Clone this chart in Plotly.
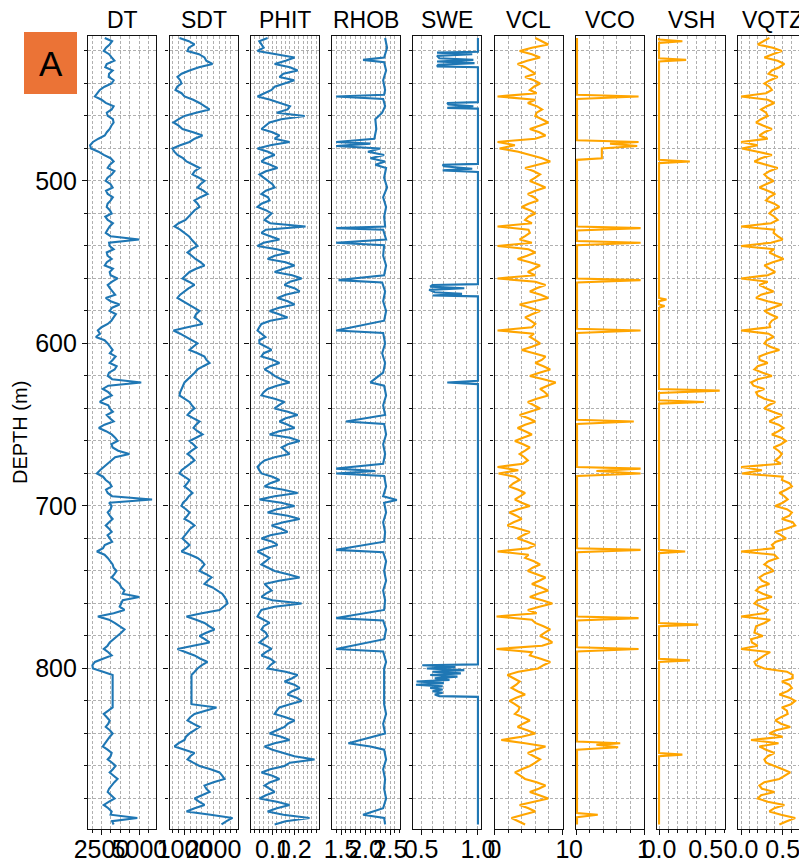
import plotly.graph_objects as go

# ---------------- data ----------------
# main depth samples (every 4 m) and the in-between samples (2 m offset)
depth = [412, 416, 420, 424, 428, 432, 436, 440, 444, 448, 452, 456, 460, 464, 468, 472, 476, 480, 484, 488,
         492, 496, 500, 504, 508, 512, 516, 520, 524, 528, 532, 536, 540, 544, 548, 552, 556, 560, 564, 568,
         572, 576, 580, 584, 588, 592, 596, 600, 604, 608, 612, 616, 620, 624, 628, 632, 636, 640, 644, 648,
         652, 656, 660, 664, 668, 672, 676, 680, 684, 688, 692, 696, 700, 704, 708, 712, 716, 720, 724, 728,
         732, 736, 740, 744, 748, 752, 756, 760, 764, 768, 772, 776, 780, 784, 788, 792, 796, 800, 804, 808,
         812, 816, 820, 824, 828, 832, 836, 840, 844, 848, 852, 856, 860, 864, 868, 872, 876, 880, 884, 888,
         892, 896]
depth_mid = [414, 418, 422, 426, 430, 434, 438, 442, 446, 450,
             454, 458, 462, 466, 470, 474, 478, 482, 486, 490,
             494, 498, 502, 506, 510, 514, 518, 522, 526, 530,
             534, 538, 542, 546, 550, 554, 558, 562, 566, 570,
             574, 578, 582, 586, 590, 594, 598, 602, 606, 610,
             614, 618, 622, 626, 630, 634, 638, 642, 646, 650,
             654, 658, 662, 666, 670, 674, 678, 682, 686, 690,
             694, 698, 702, 706, 710, 714, 718, 722, 726, 730,
             734, 738, 742, 746, 750, 754, 758, 762, 766, 770,
             774, 778, 782, 786, 790, 794, 798, 802, 806, 810,
             814, 818, 822, 826, 830, 834, 838, 842, 846, 850,
             854, 858, 862, 866, 870, 874, 878, 882, 886, 890,
             894]

dt = [2715, 3040, 2650, 3170, 2845, 3235, 2975, 3170, 2390, 2065,
      2780, 3170, 2910, 3300, 3040, 2715, 1935, 1805, 2650, 3300,
      2910, 3170, 2780, 3235, 2910, 3105, 2845, 3170, 2910, 3040,
      2780, 4990, 3040, 2845, 3170, 2715, 3040, 3560, 2910, 3235,
      2780, 3690, 3040, 3300, 2910, 2260, 2130, 2910, 3235, 3430,
      3040, 3365, 2910, 5120, 2585, 3170, 2390, 3040, 2845, 3300,
      2325, 3170, 3560, 3235, 4340, 3170, 2650, 2195, 2780, 3170,
      2910, 5835, 3170, 2910, 3235, 2780, 3170, 3040, 2715, 2195,
      2910, 3235, 3495, 3170, 3690, 4015, 4990, 3820, 4015, 2260,
      3365, 4015, 3560, 3040, 2650, 3170, 2065, 1935, 3235, 3235,
      3235, 3235, 3235, 3235, 2650, 3040, 2780, 3235, 2910, 2585,
      3170, 2910, 3430, 3040, 3560, 3170, 2910, 3365, 2650, 3170,
      4860, 3300]
dt_mid = [3200, 2800, 3000, 3350, 2750, 3000, 3300, 2700, 2250, 2500,
          3300, 2850, 3250, 3150, 2850, 2300, 1750, 2300, 3100, 3050,
          3350, 2900, 3100, 2800, 3250, 2900, 3050, 2750, 3250, 2900,
          3100, 3000, 3300, 2900, 2850, 3250, 3100, 3200, 3050, 3400,
          3100, 3200, 3450, 3150, 2500, 2400, 2700, 3050, 3050, 3250,
          3500, 3000, 3200, 2950, 2950, 2700, 2950, 3250, 3050, 2700,
          2800, 3400, 3150, 3600, 3400, 2900, 2400, 2600, 3050, 2800,
          3200, 3000, 3100, 3050, 3000, 3000, 2900, 3200, 2600, 2700,
          3100, 3300, 3350, 3450, 3800, 3900, 3900, 3700, 3300, 3000,
          3700, 3800, 3250, 2900, 2950, 2600, 1900, 2600, 3235, 3235,
          3235, 3235, 3235, 2950, 2850, 2950, 3050, 3050, 2750, 2900,
          3100, 3200, 3250, 3300, 3350, 3000, 3150, 3000, 2950, 3100,
          3200]

sdt = [828, 1345, 1104, 1690, 1966, 1173, 758, 897, 690, 1000,
       1518, 1863, 1000, 620, 931, 1621, 1173, 586, 758, 1069,
       1518, 1276, 1690, 1449, 1794, 1345, 1518, 1242, 1035, 655,
       1000, 1242, 1449, 1104, 1380, 1690, 1173, 931, 1345, 1000,
       758, 1173, 1518, 1345, 1621, 620, 1035, 1449, 1173, 1690,
       1863, 1449, 1242, 1000, 897, 828, 1173, 1345, 1104, 1518,
       1311, 1621, 1173, 1414, 1104, 1345, 1035, 828, 1173, 1000,
       1276, 1069, 897, 1173, 1000, 1345, 1104, 931, 1173, 897,
       1449, 1690, 1518, 1932, 1690, 2139, 2380, 2484, 2208, 1069,
       1690, 2035, 1518, 1863, 758, 1345, 1794, 1449, 1242, 1242,
       1242, 1242, 1242, 2104, 1345, 1104, 1518, 1173, 1000, 655,
       1345, 1104, 1518, 2208, 2380, 1690, 1863, 1345, 1690, 1069,
       2656, 2277]
sdt_mid = [1150, 1150, 1500, 1750, 1500, 900, 850, 750, 900, 1300,
           1700, 1400, 800, 800, 1300, 1350, 850, 650, 950, 1300,
           1350, 1500, 1550, 1650, 1550, 1450, 1350, 1150, 800, 850,
           1150, 1350, 1250, 1250, 1550, 1400, 1050, 1150, 1150, 850,
           950, 1350, 1400, 1500, 1100, 850, 1250, 1300, 1450, 1750,
           1650, 1350, 1100, 950, 850, 1000, 1250, 1200, 1300, 1400,
           1450, 1400, 1300, 1250, 1250, 1200, 900, 1000, 1100, 1150,
           1150, 950, 1050, 1100, 1200, 1200, 1000, 1050, 1050, 1200,
           1600, 1600, 1750, 1800, 1950, 2300, 2450, 2350, 1600, 1400,
           1850, 1750, 1700, 1300, 1050, 1550, 1600, 1350, 1242, 1242,
           1242, 1242, 1242, 1700, 1200, 1300, 1350, 1050, 800, 1000,
           1200, 1300, 1900, 2300, 2000, 1750, 1600, 1500, 1350, 1900,
           2450]

phit = [.078, .050, .032, .201, .110, .215, .132, .155, .096, .032,
        .132, .169, .247, .087, .050, .132, .178, .032, .110, .050,
        .123, .041, .078, .110, .050, .087, .032, .096, .064, .251,
        .050, .132, .032, .178, .078, .201, .110, .233, .155, .224,
        .123, .201, .087, .169, .050, .032, .068, .041, .096, .050,
        .132, .064, .110, .178, .078, .050, .155, .110, .215, .132,
        .201, .087, .224, .142, .178, .064, .032, .050, .132, .064,
        .215, .041, .201, .078, .224, .096, .169, .050, .123, .032,
        .087, .050, .110, .224, .064, .096, .050, .233, .050, .032,
        .087, .050, .078, .041, .096, .050, .110, .078, .215, .155,
        .224, .169, .233, .132, .110, .201, .155, .087, .178, .064,
        .150, .292, .155, .050, .132, .064, .110, .041, .178, .078,
        .269, .110]
phit_mid = [.040, .060, .120, .160, .180, .150, .200, .110, .060, .090,
            .180, .120, .140, .070, .100, .110, .090, .080, .070, .090,
            .070, .060, .100, .070, .080, .050, .070, .080, .090, .070,
            .090, .060, .120, .110, .160, .150, .190, .180, .200, .160,
            .170, .130, .130, .090, .040, .050, .040, .070, .060, .100,
            .090, .090, .140, .120, .060, .110, .130, .170, .160, .170,
            .130, .180, .170, .160, .110, .045, .040, .100, .090, .150,
            .110, .140, .120, .170, .150, .140, .090, .100, .070, .060,
            .070, .080, .170, .130, .080, .070, .100, .110, .040, .060,
            .060, .070, .060, .070, .070, .090, .090, .160, .190, .200,
            .190, .210, .180, .120, .160, .170, .120, .140, .110, .100,
            .200, .180, .090, .100, .090, .090, .070, .120, .120, .150,
            .160]

vcl = [.60, .79, .37, .67, .34, .52, .45, .67, .52, .045,
       .49, .70, .60, .79, .52, .75, .045, .075, .52, .82,
       .45, .67, .52, .75, .49, .64, .40, .60, .45, .045,
       .52, .37, .045, .60, .34, .67, .49, .045, .75, .52,
       .79, .37, .67, .45, .60, .045, .52, .67, .40, .75,
       .60, .82, .52, .90, .67, .79, .49, .67, .37, .60,
       .34, .55, .30, .52, .37, .49, .045, .06, .37, .22,
       .45, .30, .52, .22, .40, .19, .52, .34, .60, .045,
       .45, .67, .49, .75, .55, .79, .52, .85, .49, .03,
       .60, .82, .67, .85, .03, .52, .82, .64, .19, .37,
       .25, .45, .22, .37, .30, .52, .34, .60, .10, .75,
       .49, .67, .52, .30, .45, .75, .52, .79, .37, .60,
       .25, .45]
vcl_mid = [.70, .55, .55, .48, .45, .60, .58, .58, .62, .60,
           .62, .62, .70, .66, .66, .60, .30, .35, .70, .62,
           .58, .60, .64, .60, .58, .50, .52, .50, .55, .50,
           .45, .55, .50, .48, .52, .58, .60, .60, .62, .68,
           .58, .52, .55, .53, .55, .58, .60, .55, .58, .70,
           .72, .66, .72, .78, .74, .62, .58, .52, .50, .45,
           .45, .42, .42, .45, .44, .42, .35, .30, .28, .35,
           .38, .40, .35, .32, .28, .36, .42, .48, .50, .50,
           .58, .56, .62, .66, .68, .64, .70, .66, .62, .55,
           .72, .74, .78, .70, .55, .68, .72, .35, .28, .32,
           .34, .32, .30, .35, .42, .42, .48, .40, .45, .60,
           .58, .60, .40, .38, .62, .65, .66, .58, .50, .42,
           .35]

vqtz = [.34, .20, .49, .28, .52, .37, .44, .28, .37, 0,
        .40, .24, .32, .18, .37, .22, 0, .01, .37, .16,
        .44, .28, .39, .22, .41, .30, .46, .34, .44, 0,
        .39, .50, 0, .34, .51, .28, .41, 0, .22, .39,
        .18, .49, .28, .44, .34, 0, .39, .28, .46, .22,
        .32, .16, .37, .12, .28, .20, .41, .28, .49, .34,
        .51, .37, .54, .39, .49, .41, 0, .01, .49, .61,
        .46, .56, .41, .61, .49, .65, .41, .54, .37, 0,
        .44, .28, .39, .22, .34, .18, .37, .16, .32, 0,
        .28, .17, .26, .13, 0, .28, .16, .28, .62, .49,
        .61, .46, .65, .49, .56, .41, .59, .34, .12, .22,
        .40, .28, .41, .59, .46, .22, .40, .20, .52, .34,
        .65, .46]
vqtz_mid = [.26, .38, .38, .44, .46, .33, .35, .34, .30, .32,
            .31, .30, .24, .27, .28, .32, .20, .20, .24, .30,
            .34, .32, .30, .32, .34, .40, .38, .40, .36, .40,
            .44, .36, .40, .42, .38, .34, .32, .32, .30, .24,
            .32, .38, .35, .37, .35, .33, .31, .35, .32, .22,
            .20, .26, .20, .15, .18, .28, .33, .38, .41, .45,
            .45, .48, .48, .45, .46, .48, .25, .50, .58, .54,
            .52, .50, .55, .58, .62, .54, .48, .42, .40, .40,
            .33, .34, .28, .25, .22, .26, .20, .24, .28, .35,
            .18, .16, .12, .20, .35, .22, .18, .55, .62, .58,
            .56, .58, .60, .55, .48, .48, .42, .50, .45, .30,
            .32, .30, .50, .52, .28, .25, .24, .32, .40, .48,
            .55]

rhob_depth = [412, 418, 424, 425.5, 427, 432, 438, 444, 447, 448, 449.5, 454, 458, 462, 468, 474, 476, 477,
              478.5, 480, 482, 484, 486, 488, 490, 492, 498, 504, 510, 516, 522, 528, 529, 530, 536, 538,
              539.5, 546, 552, 558, 561, 562.5, 568, 574, 580, 586, 592, 593.5, 600, 606, 612, 618, 624,
              626, 632, 638, 644, 648, 649.5, 656, 662, 668, 674, 677, 678.5, 680, 681.5, 688, 694, 696.3,
              698, 704, 710, 716, 722, 727, 728.5, 734, 740, 746, 752, 758, 764, 769, 770.5, 776, 782, 788,
              789.5, 796, 800, 822, 828, 834, 840, 846, 848, 850, 856, 862, 868, 874, 880, 886, 890, 892, 896]
rhob = [2.40, 2.44, 2.38, 1.95, 2.38, 2.42, 2.36, 2.40, 2.38, 1.40, 2.36, 2.40, 2.34, 2.20, 2.22, 2.18, 1.40, 2.10,
        1.40, 2.30, 2.05, 2.38, 2.10, 2.40, 2.20, 2.42, 2.38, 2.44, 2.36, 2.42, 2.38, 2.40, 1.40, 2.36, 2.42, 1.40,
        2.38, 2.36, 2.42, 2.38, 1.45, 2.34, 2.40, 2.36, 2.42, 2.38, 1.40, 2.36, 2.40, 2.34, 2.40, 2.36, 2.10,
        2.38, 2.42, 2.36, 2.40, 1.60, 2.38, 2.42, 2.36, 2.40, 2.36, 1.40, 2.20, 1.40, 2.38, 2.42, 2.36, 2.64,
        2.38, 2.42, 2.36, 2.40, 2.38, 1.40, 2.36, 2.42, 2.38, 2.42, 2.36, 2.40, 2.38, 1.40, 2.36, 2.42, 2.38, 1.40,
        2.36, 2.42, 2.38, 2.38, 2.42, 2.36, 2.40, 1.65, 2.10, 2.38, 2.42, 2.36, 2.40, 2.38, 2.42, 2.36, 1.95, 2.38, 2.40]

swe_depth = [412, 420.5, 421, 422, 423, 424.5, 425.5, 426.5, 427.5, 428.5, 429.5, 430,
             451.5, 452, 453, 454, 455, 455.5, 489.5, 490, 491, 492.5, 493.5, 494.5,
             563.5, 564, 565, 566, 567, 568.5, 569.5, 570.5, 571, 623, 624, 625,
             797.5, 798, 799, 800, 801, 802, 803, 804, 805, 806, 807, 808, 809, 810,
             811, 812, 813, 814, 815, 816, 817, 817.5, 896]
swe = [1.0, 1.0, .64, .95, .64, .66, .96, .64, .97, .65, .64, 1.0,
       1.0, .73, .74, .96, .73, 1.0, 1.0, .69, .70, .95, .69, 1.0,
       1.0, .60, .58, .88, .57, .62, .86, .60, 1.0, 1.0, .73, 1.0,
       1.0, .51, .80, .55, .88, .60, .85, .58, .82, .62, .75, .46, .70, .455,
       .69, .58, .69, .60, .69, .62, .66, 1.0, 1.0]

vco_depth = [412, 447, 448, 449.5, 475, 476, 477, 478.5, 480, 486, 487, 528, 529, 530.5, 537, 538, 539.5,
             560, 561, 562.5, 591, 592, 593.5, 647, 648, 649.5, 676, 677, 678.5, 680, 681.5, 726, 727, 728.5,
             768, 769, 770.5, 787, 788, 789.5, 845, 846, 847, 848.5, 850, 889, 890, 891.5, 896]
vco = [.015, .015, .92, .015, .015, .92, .50, .90, .38, .38, .015, .015, .95, .015, .015, .95, .015,
       .015, .95, .015, .015, .95, .015, .015, .85, .015, .015, .95, .30, .95, .015, .015, .95, .015,
       .015, .92, .015, .015, .92, .015, .015, .65, .30, .62, .015, .015, .32, .015, .015]

vsh_depth = [412, 413, 414, 415, 424.5, 425.5, 426.5, 487, 488, 489, 572, 573, 574, 576, 577, 578,
             628, 629, 630.5, 635, 636, 637, 727, 728, 729, 772, 773, 774, 794, 795, 796, 852, 853, 854, 896]
vsh = [0, 0, .25, 0, 0, .29, 0, 0, .33, 0, 0, .08, 0, 0, .06, 0,
       0, .65, 0, 0, .48, 0, 0, .28, 0, 0, .42, 0, 0, .33, 0, 0, .25, 0, 0]

tracks = ["DT", "SDT", "PHIT", "RHOB", "SWE", "VCL", "VCO", "VSH", "VQTZ"]
x_ranges = [[1610, 6094], [483, 2828], [0, 0.31], [1.316, 2.704], [0.4286, 1.027],
            [0, 1], [0, 1], [-0.0217, 0.7065], [-0.037, 0.78]]
x_tickvals = [[2500, 5000], [1000, 2000], [0.1, 0.2], [1.5, 2.0, 2.5], [0.5, 1.0],
              [0, 1], [0, 1], [0, 0.5], [0, 0.5]]
x_ticktext = [["2500", "5000"], ["1000", "2000"], ["0.1", "0.2"], ["1.5", "2.0", "2.5"], ["0.5", "1.0"],
              ["0", "1"], ["0", "1"], ["0.0", "0.5"], ["0.0", "0.5"]]
x_minor = [625, 200, 0.02, 0.1, 0.1, 0.2, 0.2, 0.1, 0.1]
depth_ticks = [500, 600, 700, 800]


def interleave(main, mid):
    assert len(mid) == len(main) - 1
    out = []
    for a, b in zip(main, mid):
        out += [a, b]
    out.append(main[-1])
    return out


depth_all = interleave(depth, depth_mid)
series = [(interleave(dt, dt_mid), depth_all), (interleave(sdt, sdt_mid), depth_all),
          (interleave(phit, phit_mid), depth_all), (rhob, rhob_depth), (swe, swe_depth),
          (interleave(vcl, vcl_mid), depth_all), (vco, vco_depth), (vsh, vsh_depth),
          (interleave(vqtz, vqtz_mid), depth_all)]
for v, d in series:
    assert len(v) == len(d)
colors = ["#1f77b4"] * 5 + ["#FFA500"] * 4

# ---------------- layout ----------------
# the page body has an 8px margin, so the figure is drawn 8px in from the window corner
OFF = 8
W, H = 799, 860
FONT = "Liberation Sans, Arial, sans-serif"
lefts = [88, 169.5, 250.5, 332, 413, 494.5, 576, 657, 738]
pw = 68
ytop, ybot = 36, 829
GRID = "#b0b0b0"
DASH = "3px,2px"


def fx(px):
    return (px - OFF) / W


def fy(py):
    return 1 - (py - OFF) / H


fig = go.Figure()
layout = dict(width=W, height=H, margin=dict(l=0, r=0, t=0, b=0, autoexpand=False), autosize=False,
              paper_bgcolor="white", plot_bgcolor="white", showlegend=False,
              font=dict(family=FONT, color="black"))

annotations = []
for i, name in enumerate(tracks):
    k = "" if i == 0 else str(i + 1)
    vals, dep = series[i]
    fig.add_trace(go.Scatter(x=vals, y=dep, mode="lines", line=dict(color=colors[i], width=2.1),
                             xaxis="x" + k, yaxis="y" + k, hoverinfo="skip"))
    dom = [fx(lefts[i]), fx(lefts[i] + pw)]
    layout["xaxis" + k] = dict(
        domain=dom, anchor="y" + k, range=x_ranges[i], tickmode="array", automargin=False,
        tickvals=x_tickvals[i], ticktext=x_ticktext[i], tickangle=0, ticklabelstandoff=-7,
        showline=True, mirror=True, linecolor="#111", linewidth=1.3,
        ticks="outside", ticklen=5, tickwidth=1, tickcolor="#111",
        showgrid=True, gridcolor=GRID, gridwidth=1, griddash=DASH, zeroline=False,
        tickfont=dict(family=FONT, size=25, color="black"),
        minor=dict(dtick=x_minor[i], tick0=0, ticks="outside", ticklen=3, tickcolor="#111",
                   showgrid=True, gridcolor=GRID, gridwidth=1, griddash=DASH),
    )
    layout["yaxis" + k] = dict(
        domain=[fy(ybot), fy(ytop)], anchor="x" + k, range=[898.8, 410.8], automargin=False,
        tickmode="array", tickvals=depth_ticks, showticklabels=(i == 0),
        showline=True, mirror=True, linecolor="#111", linewidth=1.3,
        ticks="outside", ticklen=5, tickwidth=1, tickcolor="#111",
        showgrid=True, gridcolor=GRID, gridwidth=1, griddash=DASH, zeroline=False,
        tickfont=dict(family=FONT, size=25, color="black"),
        minor=dict(dtick=20, tick0=0, ticks="outside", ticklen=3, tickcolor="#111",
                   showgrid=True, gridcolor=GRID, gridwidth=1, griddash=DASH),
    )
    if i > 0:
        layout["yaxis" + k]["matches"] = "y"
    annotations.append(dict(text=name, x=fx(lefts[i] + pw / 2), y=fy(20), xref="paper", yref="paper",
                            xanchor="center", yanchor="middle", showarrow=False,
                            font=dict(family=FONT, size=23, color="black")))

annotations.append(dict(text="DEPTH (m)", textangle=-90, x=fx(20), y=fy(433), xref="paper", yref="paper",
                        xanchor="center", yanchor="middle", showarrow=False,
                        font=dict(family=FONT, size=20, color="black")))
annotations.append(dict(text="A", x=fx(50.5), y=fy(63), xref="paper", yref="paper",
                        xanchor="center", yanchor="middle", showarrow=False,
                        font=dict(family=FONT, size=35, color="black")))
layout["annotations"] = annotations
layout["shapes"] = [dict(type="rect", xref="paper", yref="paper", x0=fx(24), x1=fx(77),
                         y0=fy(94), y1=fy(32), fillcolor="#EB7336", line=dict(width=0), layer="below")]

fig.update_layout(**layout)
fig.write_html("out.html")
